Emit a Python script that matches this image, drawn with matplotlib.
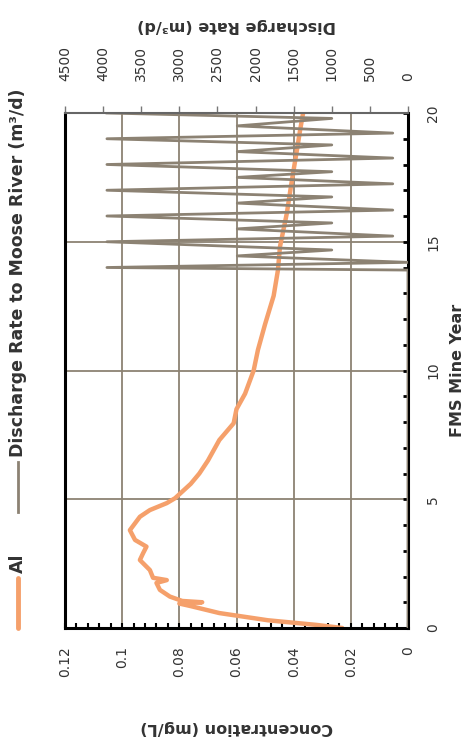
import matplotlib
matplotlib.use("Agg")
import matplotlib.pyplot as plt
from matplotlib.lines import Line2D
from matplotlib.ticker import MultipleLocator, FuncFormatter

# Al concentration (mg/L) against FMS mine year
al_year = [0.0, 0.12, 0.3, 0.58, 0.85, 0.95, 1.0, 1.05, 1.22, 1.48, 1.75, 1.86, 1.95,
           2.25, 2.64, 2.9, 3.16, 3.42, 3.8, 4.32, 4.58, 4.85, 5.04, 5.6, 6.0, 6.5,
           7.3, 7.95, 8.5, 9.1, 10.0, 10.8, 11.8, 12.9, 13.9, 14.8, 16.1, 17.4,
           18.6, 19.3, 20.0]
al_conc = [0.023, 0.032, 0.049, 0.066, 0.076, 0.080, 0.072, 0.079, 0.0833, 0.0868,
           0.088, 0.0844, 0.0892, 0.0903, 0.0938, 0.0927, 0.0915, 0.0955, 0.0973,
           0.0938, 0.0903, 0.0844, 0.0815, 0.076, 0.073, 0.070, 0.066, 0.061, 0.060,
           0.057, 0.054, 0.0525, 0.050, 0.047, 0.0455, 0.0448, 0.0424, 0.0406,
           0.0388, 0.0378, 0.0367]

# discharge rate to Moose River (m3/d)
q_year = [0.0, 13.9, 14.0, 14.2, 14.45, 14.68, 15.0, 15.22, 15.5, 15.73, 16.0, 16.23,
          16.5, 16.74, 17.0, 17.25, 17.5, 17.72, 18.0, 18.25, 18.5, 18.76, 19.0,
          19.22, 19.5, 19.79, 20.0]
q_rate = [0, 0, 3950, 0, 2240, 1000, 3950, 200, 2240, 1000, 3950, 200, 2240, 1000,
          3950, 200, 2240, 1000, 3950, 200, 2240, 1000, 3950, 200, 2240, 1000, 3950]

ORANGE = "#F5A06B"
GREY = "#8C8273"
TEXT = "#333333"
W, H = 474, 740

fig = plt.figure(figsize=(W / 100, H / 100), dpi=100)
ax = fig.add_axes([65 / W, 1 - 628 / H, 343 / W, 515 / H])

# chart is drawn turned a quarter turn: year runs upward, concentration leftward
ax.plot(al_conc, al_year, color=ORANGE, lw=3.2, solid_capstyle="round",
        solid_joinstyle="round")
ax.set_xlim(0.12, 0)
ax.set_ylim(0, 20)
ax.xaxis.set_major_locator(MultipleLocator(0.02))
ax.xaxis.set_minor_locator(MultipleLocator(0.004))
ax.xaxis.set_major_formatter(FuncFormatter(lambda v, p: f"{v:g}"))
ax.yaxis.set_major_locator(MultipleLocator(5))
ax.yaxis.set_minor_locator(MultipleLocator(1))
ax.yaxis.tick_right()
ax.grid(True, which="major", color=GREY, lw=1.3)
ax.set_axisbelow(True)

ax.tick_params(axis="x", which="both", direction="in", length=3.5, width=1.5,
               color="black", labelrotation=90, labelsize=10, pad=13,
               labelcolor=TEXT)
ax.tick_params(axis="y", which="both", direction="in", length=3.5, width=2,
               color="black", labelrotation=90, labelsize=10, pad=13,
               labelcolor=TEXT, left=False, right=True)
for lab in ax.get_yticklabels():
    lab.set_va("center")

for side in ("bottom", "right", "left"):
    ax.spines[side].set_color("black")
    ax.spines[side].set_linewidth(2.2)
ax.spines["top"].set_visible(False)

ax2 = ax.twiny()
ax2.plot(q_rate, q_year, color=GREY, lw=2.0, solid_joinstyle="round")
ax2.set_xlim(4500, 0)
ax2.xaxis.set_major_locator(MultipleLocator(500))
ax2.tick_params(axis="x", direction="out", length=5, width=1, color="#777777",
                labelrotation=90, labelsize=10, pad=18, labelcolor=TEXT)
for side in ("bottom", "right", "left"):
    ax2.spines[side].set_visible(False)
ax2.spines["top"].set_color("#666666")
ax2.spines["top"].set_linewidth(1.5)

cx = (65 + 408) / 2 / W
fig.text(cx, 1 - 727 / H, "Concentration (mg/L)", rotation=180, ha="center",
         va="center", fontsize=11.5, fontweight="bold", color=TEXT)
fig.text(cx, 1 - 25 / H, "Discharge Rate (m\u00b3/d)", rotation=180, ha="center",
         va="center", fontsize=11.5, fontweight="bold", color=TEXT)
fig.text(458 / W, 1 - 370 / H, "FMS Mine Year", rotation=90, ha="center",
         va="center", fontsize=11.5, fontweight="bold", color=TEXT)

# legend, turned with the chart
fig.add_artist(Line2D([18 / W, 18 / W], [1 - 628 / H, 1 - 578 / H], color=ORANGE,
                      lw=3.5, solid_capstyle="round"))
fig.text(18 / W, 1 - 573 / H, "Al", rotation=90, ha="center", va="bottom",
         fontsize=12.5, fontweight="bold", color=TEXT)
fig.add_artist(Line2D([18 / W, 18 / W], [1 - 512 / H, 1 - 462 / H], color=GREY,
                      lw=2))
fig.text(18 / W, 1 - 457 / H, "Discharge Rate to Moose River (m\u00b3/d)",
         rotation=90, ha="center", va="bottom", fontsize=12.5, fontweight="bold",
         color=TEXT)

fig.savefig("out.png", dpi=100)
